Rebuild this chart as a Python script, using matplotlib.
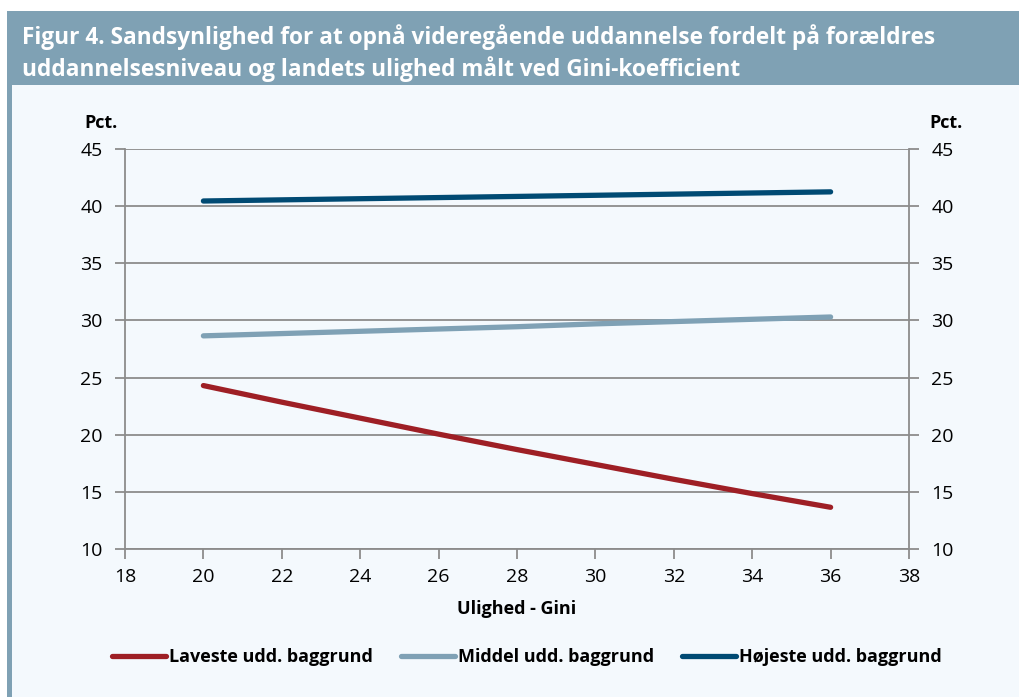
import matplotlib.pyplot as plt
from matplotlib.patches import Rectangle

# Data
gini = [20, 22, 24, 26, 28, 30, 32, 34, 36]
laveste = [24.3, 22.85, 21.45, 20.05, 18.7, 17.4, 16.1, 14.85, 13.65]
middel = [28.65, 28.85, 29.05, 29.25, 29.45, 29.7, 29.9, 30.1, 30.3]
hoejeste = [40.45, 40.55, 40.65, 40.75, 40.85, 40.95, 41.05, 41.15, 41.25]

labels = ['Laveste udd. baggrund', 'Middel udd. baggrund', 'Højeste udd. baggrund']
colors = ['#9E1F25', '#7FA1B5', '#004A73']
title = ('Figur 4. Sandsynlighed for at opnå videregående uddannelse fordelt på forældres\n'
         'uddannelsesniveau og landets ulighed målt ved Gini-koefficient')

plt.rcParams['font.family'] = ['Open Sans', 'DejaVu Sans']

W, H = 1020, 697
fig = plt.figure(figsize=(W / 100, H / 100), dpi=100)
fig.patch.set_facecolor('white')

# baggrund, venstre kant og titelbjælke
fig.add_artist(Rectangle((12 / W, 0), 1, 1 - 85 / H, transform=fig.transFigure,
                         facecolor='#F4F9FD', edgecolor='none', zorder=-3))
fig.add_artist(Rectangle((7 / W, 0), 5 / W, 1 - 85 / H, transform=fig.transFigure,
                         facecolor='#7FA1B4', edgecolor='none', zorder=-2))
fig.add_artist(Rectangle((7 / W, 1 - 85 / H), 1, 74 / H, transform=fig.transFigure,
                         facecolor='#7FA1B4', edgecolor='none', zorder=-2))
t = fig.text(22 / W, 1 - 53 / H, title, color='white', fontsize=14, fontweight='bold',
             va='center', ha='left', linespacing=1.3)
# tilpas titlens bredde til ca. 916 px som i originalen
fig.canvas.draw()
w = t.get_window_extent().width
t.set_fontsize(14 * 916 / w)

ax = fig.add_axes([125 / W, 1 - 549 / H, 784 / W, 400 / H])
ax.set_facecolor('none')

for y, lab, c in zip([laveste, middel, hoejeste], labels, colors):
    ax.plot(gini, y, color=c, lw=3.8, solid_capstyle='round', label=lab, zorder=3)

ax.set_xlim(18, 38)
ax.set_ylim(10, 45)
ax.set_xticks(range(18, 39, 2))
ax.set_yticks(range(10, 46, 5))
ax.grid(axis='y', color='#8C8C8C', lw=1.3)
ax.set_axisbelow(True)

for s in ['left', 'right', 'bottom']:
    ax.spines[s].set_color('#8C8C8C')
    ax.spines[s].set_linewidth(1.3)
ax.spines['top'].set_visible(False)

ax.tick_params(axis='y', left=True, right=True, labelleft=True, labelright=True,
               length=7, width=1.3, color='#8C8C8C', labelsize=14, pad=9)
ax.tick_params(axis='x', length=7, width=1.3, color='#8C8C8C', labelsize=14, pad=7)

ax.set_xlabel('Ulighed - Gini', fontsize=13, fontweight='bold', labelpad=10)
fig.text(101 / W, 1 - 123 / H, 'Pct.', fontsize=13, fontweight='bold', ha='center', va='center')
fig.text(946 / W, 1 - 123 / H, 'Pct.', fontsize=13, fontweight='bold', ha='center', va='center')

fig.legend(loc='center', bbox_to_anchor=(527 / W, 1 - 657 / H), ncol=3, frameon=False,
           prop={'weight': 'bold', 'size': 13}, handlelength=3.0,
           handletextpad=0.15, columnspacing=1.55)

fig.savefig('out.png', dpi=100, facecolor=fig.get_facecolor())
